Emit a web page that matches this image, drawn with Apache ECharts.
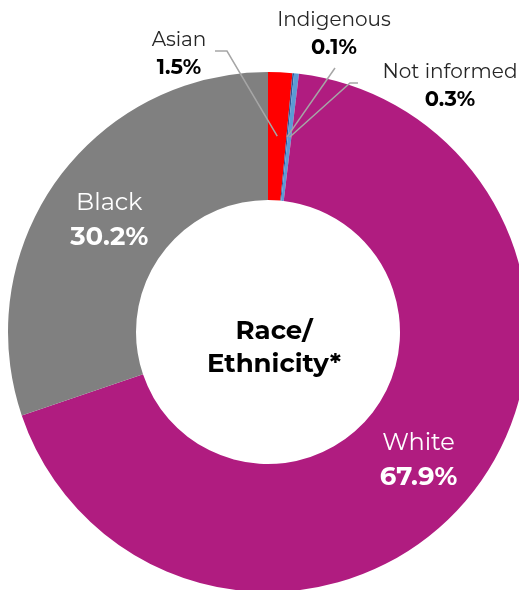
<!DOCTYPE html>
<html><head><meta charset="utf-8">
<script src="https://cdn.jsdelivr.net/npm/echarts@6/dist/echarts.min.js"></script>
<style>html,body{margin:0;padding:0;background:#fff}#c{width:519px;height:590px}</style>
</head><body><div id="c"></div>
<script>
const categories = ['Asian', 'Indigenous', 'Not informed', 'White', 'Black'];
const values = [1.5, 0.1, 0.3, 67.9, 30.2];
const colors = ['#FF0000', '#2F5597', '#5B9BD5', '#B01C80', '#808080'];
const centerTitle = 'Race/\nEthnicity*';

const FONT = 'Montserrat, "DejaVu Sans", sans-serif';
const CX = 268, CY = 332, R0 = 132, R1 = 260;
// outside label anchors (label centre) and leader line bend/end points
const outside = {
  'Asian':        {x: 179, y: 54, bend: [227, 51], end: [215, 51]},
  'Indigenous':   {x: 334, y: 34, bend: [335, 68], end: null},
  'Not informed': {x: 450, y: 86, bend: [350, 83], end: [358, 83]}
};
const insideOffset = {'White': [-4, 3], 'Black': [3, 4]};
const total = values.reduce((a, b) => a + b, 0);
function midPoint(idx) {
  let before = 0;
  for (let i = 0; i < idx; i++) before += values[i];
  const ang = (90 - (before + values[idx] / 2) / total * 360) * Math.PI / 180;
  const r = (R0 + R1) / 2;
  return [CX + r * Math.cos(ang), CY - r * Math.sin(ang)];
}
const fmt = p => '{n|' + p.name + '}\n{v|' + p.value.toFixed(1) + '%}';

// base ring with inside labels
const ringData = categories.map((c, i) => {
  const d = {name: c, value: values[i], itemStyle: {color: colors[i]}};
  if (outside[c]) {
    d.label = {show: false};
    d.labelLine = {show: false};
  } else {
    d.label = {show: true, position: 'inside', formatter: fmt, offset: insideOffset[c],
      rich: {
        n: {fontFamily: FONT, fontSize: 24, color: '#fff', lineHeight: 34, align: 'center'},
        v: {fontFamily: FONT, fontSize: 26, fontWeight: 'bold', color: '#fff', lineHeight: 34, align: 'center'}
      }};
    d.labelLine = {show: false};
  }
  return d;
});

// transparent overlay ring carrying outside labels + leader lines above the slices
const overlayData = categories.map((c, i) => {
  const d = {name: c, value: values[i], itemStyle: {color: 'rgba(0,0,0,0)'}};
  if (outside[c]) {
    d.label = {show: true, position: 'outside', formatter: fmt,
      rich: {
        n: {fontFamily: FONT, fontSize: 20, color: '#262626', lineHeight: 27, align: 'center'},
        v: {fontFamily: FONT, fontSize: 21, fontWeight: 'bold', color: '#000', lineHeight: 27, align: 'center'}
      }};
    d.labelLine = {show: true, lineStyle: {color: '#A6A6A6', width: 1.5}};
  } else {
    d.label = {show: false};
    d.labelLine = {show: false};
  }
  return d;
});

const chart = echarts.init(document.getElementById('c'), null, {renderer: 'canvas'});
chart.setOption({
  animation: false,
  graphic: [{
    type: 'text', x: CX + 6, y: CY + 16,
    style: {text: centerTitle, fill: '#000', font: 'bold 26px ' + FONT,
      align: 'center', verticalAlign: 'middle', lineHeight: 33}
  }],
  series: [{
    type: 'pie', z: 2, center: [CX, CY], radius: [R0, R1], startAngle: 90, clockwise: true,
    avoidLabelOverlap: false, silent: true,
    data: ringData
  }, {
    type: 'pie', z: 5, center: [CX, CY], radius: [R0, R1], startAngle: 90, clockwise: true,
    avoidLabelOverlap: false, silent: true,
    data: overlayData,
    labelLayout: function (params) {
      const name = categories[params.dataIndex];
      const o = outside[name];
      if (!o) return {};
      const start = midPoint(params.dataIndex);
      const pts = [start, o.bend];
      pts.push(o.end ? o.end : o.bend);
      return {x: o.x, y: o.y, align: 'center', verticalAlign: 'middle', labelLinePoints: pts};
    }
  }]
});
</script></body></html>
